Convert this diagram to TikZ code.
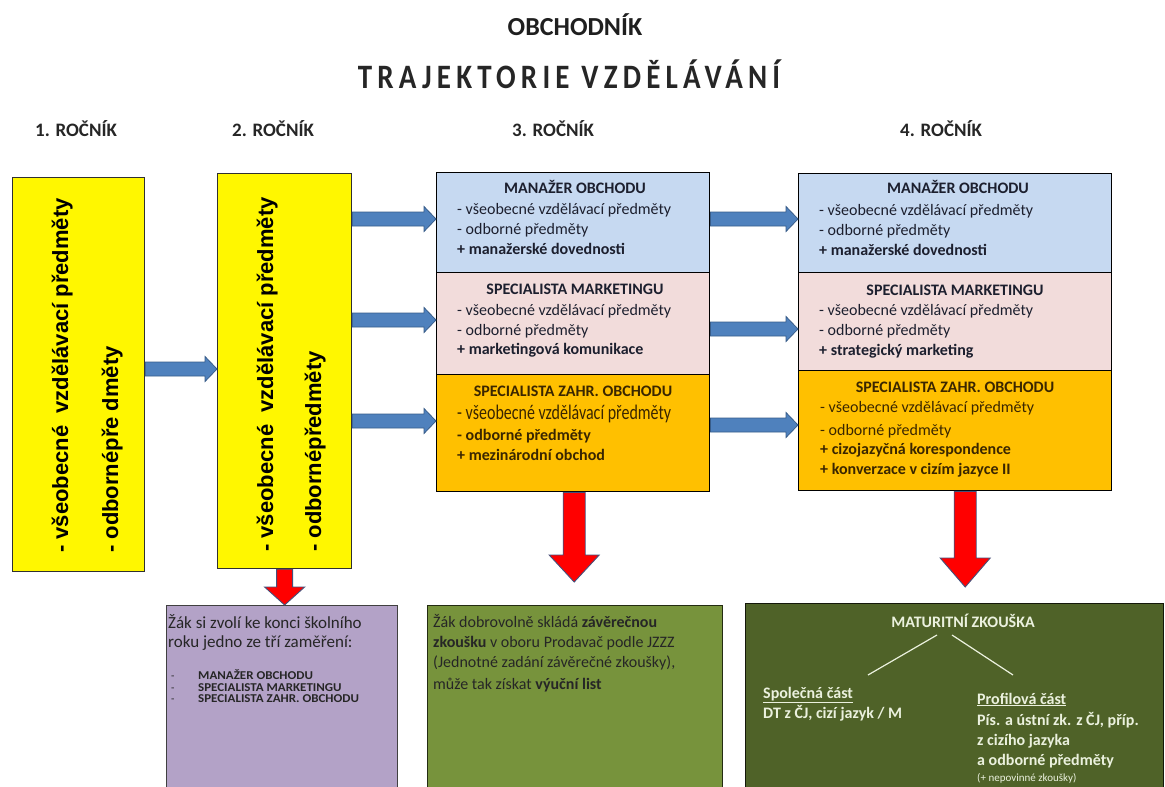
\documentclass[tikz,border=0pt]{standalone}
\usepackage{fontspec}
\setmainfont{Carlito}
\newfontfamily\arialfont{Liberation Sans}
\usetikzlibrary{calc}
\definecolor{yfill}{HTML}{FFF700}
\definecolor{ydraw}{HTML}{303030}
\definecolor{bfill}{HTML}{C6D9F1}
\definecolor{pfill}{HTML}{F2DCDB}
\definecolor{ofill}{HTML}{FFC000}
\definecolor{arrblue}{HTML}{4F81BD}
\definecolor{arrblued}{HTML}{385D8A}
\definecolor{arrred}{HTML}{FF0000}
\definecolor{arrredd}{HTML}{44507A}
\definecolor{purp}{HTML}{B3A2C7}
\definecolor{grn}{HTML}{77933C}
\definecolor{dgrn}{HTML}{4F6228}
\definecolor{cream}{HTML}{EBF1DE}
\definecolor{txt}{HTML}{1C1F2E}
\definecolor{otxt}{HTML}{3A2600}
\newcommand\fsz[2]{\fontsize{#1}{#2}\selectfont}
% horizontal block arrow: start, tip
\newcommand\harr[2]{%
  \draw[bluearr] let \p1=(#1), \p2=(#2) in
    (\x1,\y1+7pt) -- (\x2-12pt,\y1+7pt) -- (\x2-12pt,\y1+12.5pt) -- (\x2,\y1)
    -- (\x2-12pt,\y1-12.5pt) -- (\x2-12pt,\y1-7pt) -- (\x1,\y1-7pt) -- cycle;}
% vertical block arrow: start, tip, shaft half, head half, head length
\newcommand\varr[5]{%
  \draw[redarr] let \p1=(#1), \p2=(#2) in
    (\x1-#3pt,\y1) -- (\x1-#3pt,\y2+#5pt) -- (\x1-#4pt,\y2+#5pt) -- (\x1,\y2)
    -- (\x1+#4pt,\y2+#5pt) -- (\x1+#3pt,\y2+#5pt) -- (\x1+#3pt,\y1) -- cycle;}
\tikzset{
  ybox/.style={draw=ydraw, fill=yfill, line width=1.2pt, inner sep=0, anchor=north west},
  cbox/.style={draw=black, line width=1.4pt, inner sep=0, anchor=north west},
  bbox/.style={line width=1.4pt, inner sep=0, anchor=north west},
  bluearr/.style={fill=arrblue, draw=arrblued, line width=0.8pt, line join=miter},
  redarr/.style={fill=arrred, draw=arrredd, line width=0.9pt, line join=miter},
  rot/.style={rotate=90, anchor=base west, inner sep=0, text=black,
    font=\arialfont\bfseries\fsz{22}{26}},
  ttl/.style={font=\fsz{16}{20}\bfseries, text=txt, anchor=base, inner sep=0},
  ln/.style={font=\fsz{16}{20}, text=txt, anchor=base west, inner sep=0},
  lnb/.style={ln, font=\fsz{16}{20}\bfseries},
  year/.style={font=\fsz{19}{22}\bfseries, text=black!85, anchor=base west, inner sep=0},
  mline/.style={draw=cream, line width=1.2pt},
}
\begin{document}
\begin{tikzpicture}[x=1pt,y=-1pt]
\useasboundingbox (0,0) rectangle (1165,787);
\clip (0,0) rectangle (1165,787);
\fill[white] (0,0) rectangle (1165,787);

% headings
\node[font=\fsz{26}{30}\bfseries, text=black!88, anchor=base, inner sep=0] (h1) at (575,35) {OBCHODNÍK};
\node[font=\fsz{29}{33}\bfseries\addfontfeature{LetterSpace=18}, text=black!85, anchor=base, inner sep=0] (h2) at (569,88) {\scalebox{1}[1.18]{TRAJEKTORIE VZDĚLÁVÁNÍ}};
\node[year] (r1) at (35,136) {1. ROČNÍK};
\node[year] (r2) at (232,136) {2. ROČNÍK};
\node[year] (r3) at (512,136) {3. ROČNÍK};
\node[year] (r4) at (900,136) {4. ROČNÍK};

% yellow boxes
\node[ybox, minimum width=132pt, minimum height=394pt] (y1) at (12,177) {};
\node[ybox, minimum width=134pt, minimum height=395pt] (y2) at (217,173) {};
\node[rot] (t11) at (68,553) {- všeobecné\ \ vzdělávací předměty};
\node[rot] (t12) at (118,553) {- odbornépře dměty};
\node[rot] (t21) at (273,552) {- všeobecné\ \ vzdělávací předměty};
\node[rot] (t22) at (321,552) {- odbornépředměty};

% column 3
\node[cbox, fill=bfill, minimum width=273pt, minimum height=100pt] (m3) at (436,172) {};
\node[cbox, fill=pfill, minimum width=273pt, minimum height=102pt] (s3) at (436,272) {};
\node[cbox, fill=ofill, minimum width=273pt, minimum height=117pt] (z3) at (436,374) {};
% column 4
\node[cbox, fill=bfill, minimum width=313pt, minimum height=99pt] (m4) at (798,173) {};
\node[cbox, fill=pfill, minimum width=313pt, minimum height=98pt] (s4) at (798,272) {};
\node[cbox, fill=ofill, minimum width=313pt, minimum height=120pt] (z4) at (798,370) {};

% column 3 texts
\node[ttl] (m3t) at (575,193) {MANAŽER OBCHODU};
\node[ln] (m3a) at (457,214) {- všeobecné vzdělávací předměty};
\node[ln] (m3b) at (457,234) {- odborné předměty};
\node[lnb] (m3c) at (457,254) {+ manažerské dovednosti};
\node[ttl] (s3t) at (575,294) {SPECIALISTA MARKETINGU};
\node[ln] (s3a) at (457,315) {- všeobecné vzdělávací předměty};
\node[ln] (s3b) at (457,335) {- odborné předměty};
\node[lnb] (s3c) at (457,354) {+ marketingová komunikace};
\node[ttl, text=otxt] (z3t) at (573,396) {SPECIALISTA ZAHR. OBCHODU};
\node[ln, text=otxt] (z3a) at (457,419) {\scalebox{1}[1.3]{- všeobecné vzdělávací předměty}};
\node[lnb, text=otxt] (z3b) at (457,440) {- odborné předměty};
\node[lnb, text=otxt] (z3c) at (457,460) {+ mezinárodní obchod};
% column 4 texts
\node[ttl] (m4t) at (958,193) {MANAŽER OBCHODU};
\node[ln] (m4a) at (819,215) {- všeobecné vzdělávací předměty};
\node[ln] (m4b) at (819,235) {- odborné předměty};
\node[lnb] (m4c) at (819,255) {+ manažerské dovednosti};
\node[ttl] (s4t) at (955,295) {SPECIALISTA MARKETINGU};
\node[ln] (s4a) at (819,315) {- všeobecné vzdělávací předměty};
\node[ln] (s4b) at (819,335) {- odborné předměty};
\node[lnb] (s4c) at (819,355) {+ strategický marketing};
\node[ttl, text=otxt] (z4t) at (955,392) {SPECIALISTA ZAHR. OBCHODU};
\node[ln, text=otxt] (z4a) at (820,412) {- všeobecné vzdělávací předměty};
\node[ln, text=otxt] (z4b) at (820,435) {- odborné předměty};
\node[lnb, text=otxt] (z4c) at (820,454) {+ cizojazyčná korespondence};
\node[lnb, text=otxt] (z4d) at (820,474) {+ konverzace v cizím jazyce II};

% bottom boxes
\node[bbox, draw=black!75, fill=purp, minimum width=231pt, minimum height=200pt] (pp) at (166,605) {};
\node[bbox, draw=black!70!grn, fill=grn, minimum width=295pt, minimum height=200pt] (g1) at (427,605) {};
\node[bbox, draw=black!75!dgrn, fill=dgrn, minimum width=418pt, minimum height=200pt] (g2) at (745,603) {};

% purple texts
\node[ln, font=\fsz{17}{20}, text=black!85] (pa) at (168,628) {Žák si zvolí ke konci školního};
\node[ln, font=\fsz{17}{20}, text=black!85] (pb) at (168,647) {roku jedno ze tří zaměření:};
\node[ln, font=\fsz{11}{12}, text=black!85] (pd1) at (171,679.5) {-};
\node[ln, font=\fsz{11}{12}, text=black!85] (pd2) at (171,691) {-};
\node[ln, font=\fsz{11}{12}, text=black!85] (pd3) at (171,702.5) {-};
\node[ln, font=\fsz{12}{12}\bfseries, text=black!85] (pi1) at (198,679.5) {\scalebox{1.08}[1]{MANAŽER OBCHODU}};
\node[ln, font=\fsz{12}{12}\bfseries, text=black!85] (pi2) at (198,691) {\scalebox{1.08}[1]{SPECIALISTA MARKETINGU}};
\node[ln, font=\fsz{12}{12}\bfseries, text=black!85] (pi3) at (198,702.5) {\scalebox{1.08}[1]{SPECIALISTA ZAHR. OBCHODU}};

% green texts
\node[ln, text=black!85] (ga) at (433,627) {Žák dobrovolně skládá \textbf{závěrečnou}};
\node[ln, text=black!85] (gb) at (433,647) {\textbf{zkoušku} v oboru Prodavač podle JZZZ};
\node[ln, text=black!85] (gc) at (433,667) {(Jednotné zadání závěrečné zkoušky),};
\node[ln, text=black!85] (gd) at (433,689) {může tak získat \textbf{výuční list}};

% dark green texts
\node[ttl, text=cream] (mz) at (963,627) {MATURITNÍ ZKOUŠKA};
\node[lnb, text=cream] (sc) at (763,698) {\underline{Společná část}};
\node[lnb, text=cream] (sc1) at (763,718) {DT z ČJ, cizí jazyk / M};
\node[lnb, text=cream] (pc) at (977,704) {\underline{Profilová část}};
\node[lnb, text=cream] (pc1) at (977,725) {Pís. a ústní zk. z ČJ, příp.};
\node[lnb, text=cream] (pc2) at (977,745) {z cizího jazyka};
\node[lnb, text=cream] (pc3) at (977,765) {a odborné předměty};
\node[ln, font=\fsz{11}{12}, text=cream] (pc4) at (977,781) {(+ nepovinné zkoušky)};
\coordinate (la1) at (937,635);
\coordinate (la2) at (868,675);
\coordinate (lb1) at (952,635);
\coordinate (lb2) at (1013,675);
\draw[mline] (la1) -- (la2);
\draw[mline] (lb1) -- (lb2);

% blue arrows
\coordinate (ra) at (0,369);
\coordinate (rb1) at (0,219);
\coordinate (rb2) at (0,320);
\coordinate (rb3) at (0,421);
\coordinate (rc1) at (0,219);
\coordinate (rc2) at (0,329);
\coordinate (rc3) at (0,425);
\harr{y1.east |- ra}{y2.west |- ra}
\harr{y2.east |- rb1}{m3.west |- rb1}
\harr{y2.east |- rb2}{s3.west |- rb2}
\harr{y2.east |- rb3}{z3.west |- rb3}
\harr{m3.east |- rc1}{m4.west |- rc1}
\harr{s3.east |- rc2}{s4.west |- rc2}
\harr{z3.east |- rc3}{z4.west |- rc3}

% red arrows
\varr{y2.south}{y2.south |- pp.north}{8}{20}{18}
\varr{$(z3.south)+(1,0)$}{$(z3.south |- g1.north)+(1,-23)$}{11}{25}{27}
\varr{$(z4.south)+(10,0)$}{$(z4.south |- g2.north)+(10,-16)$}{11}{25}{29}
\end{tikzpicture}
\end{document}
